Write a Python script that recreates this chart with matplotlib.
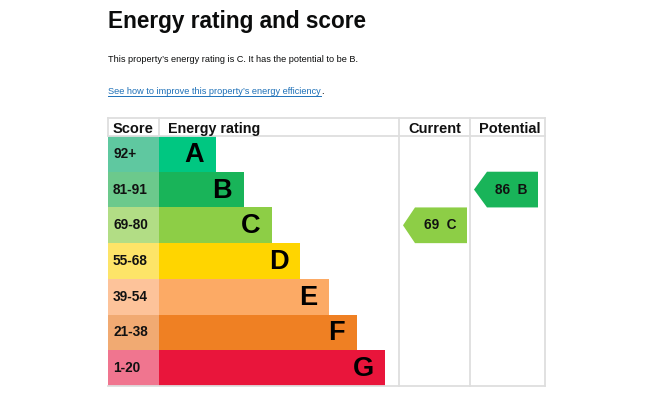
import matplotlib
matplotlib.use('Agg')
import matplotlib.pyplot as plt
from matplotlib.patches import Polygon

plt.rcParams['font.family'] = ['Liberation Sans', 'DejaVu Sans']

# ---- data ----
bands = ['A', 'B', 'C', 'D', 'E', 'F', 'G']
score_ranges = ['92+', '81-91', '69-80', '55-68', '39-54', '21-38', '1-20']
band_min = [92, 81, 69, 55, 39, 21, 1]
bar_units = [2, 3, 4, 5, 6, 7, 8]
band_colors = ['#00c781', '#19b459', '#8dce46', '#ffd500', '#fcaa65', '#ef8023', '#e9153b']
score_colors = ['#5fc8a0', '#6cc98c', '#b2dd85', '#fde468', '#fdc39a', '#f1aa72', '#f0758f']
headers = ['Score', 'Energy rating', 'Current', 'Potential']
current_score = 69
potential_score = 86
title = 'Energy rating and score'
subtitle = "This property\u2019s energy rating is C. It has the potential to be B."
link_text = "See how to improve this property\u2019s energy efficiency"

# ---- layout (pixels) ----
W, H = 650, 400
tbl_left, tbl_right = 108, 544.5
tbl_top, hdr_bottom, tbl_bottom = 118, 136, 386
score_right = 159
rating_right = 399
current_right = 470
unit = 28.25
row_h = (tbl_bottom - hdr_bottom) / len(bands)
grid_col = '#dedede'

fig = plt.figure(figsize=(W / 100, H / 100), dpi=100)
ax = fig.add_axes([0, 0, 1, 1])
ax.set_xlim(0, W)
ax.set_ylim(H, 0)
ax.axis('off')

centers = [hdr_bottom + row_h * (i + 0.5) for i in range(len(bands))]

# score cells
ax.barh(centers, [score_right - tbl_left] * len(bands), left=tbl_left,
        height=row_h, color=score_colors, linewidth=0)
# rating bars
ax.barh(centers, [u * unit for u in bar_units], left=score_right,
        height=row_h, color=band_colors, linewidth=0)

for i, (b, sr, u) in enumerate(zip(bands, score_ranges, bar_units)):
    ax.text(tbl_left + 5, centers[i], sr, ha='left', va='center',
            fontsize=9.8, fontweight='bold', color='#111111')
    ax.text(score_right + u * unit - 11.5, centers[i] + 1, b, ha='right', va='center',
            fontsize=19.5, fontweight='bold', color='black')

# grid lines
lw = 1.3
ax.plot([tbl_left, tbl_right], [tbl_top, tbl_top], color=grid_col, lw=lw)
ax.plot([tbl_left, tbl_right], [hdr_bottom, hdr_bottom], color=grid_col, lw=lw)
ax.plot([tbl_left, tbl_right], [tbl_bottom, tbl_bottom], color=grid_col, lw=lw)
ax.plot([tbl_left, tbl_left], [tbl_top, hdr_bottom], color=grid_col, lw=lw)
ax.plot([score_right, score_right], [tbl_top, hdr_bottom], color=grid_col, lw=lw)
for x in (rating_right, current_right, tbl_right):
    ax.plot([x, x], [tbl_top, tbl_bottom], color=grid_col, lw=lw)

# headers
hy = 133
ax.text(tbl_left + 5, hy, headers[0], ha='left', va='baseline', fontsize=10.5,
        fontweight='bold', color='#111111')
ax.text(score_right + 9, hy, headers[1], ha='left', va='baseline', fontsize=10.3,
        fontweight='bold', color='#111111')
ax.text((rating_right + current_right) / 2, hy, headers[2], ha='center', va='baseline',
        fontsize=10.5, fontweight='bold', color='#111111')
ax.text((current_right + tbl_right) / 2 + 2, hy, headers[3], ha='center', va='baseline',
        fontsize=10.5, fontweight='bold', color='#111111')


def band_index(score):
    for i, m in enumerate(band_min):
        if score >= m:
            return i
    return len(band_min) - 1


def arrow(score, x_tip, x_body, x_right):
    i = band_index(score)
    top = hdr_bottom + row_h * i
    bot = top + row_h
    mid = (top + bot) / 2
    poly = Polygon([(x_tip, mid), (x_body, top), (x_right, top), (x_right, bot), (x_body, bot)],
                   closed=True, facecolor=band_colors[i], edgecolor='none')
    ax.add_patch(poly)
    ax.text((x_body + x_right) / 2 - 1, mid, f"{score}  {bands[i]}", ha='center', va='center',
            fontsize=9.8, fontweight='bold', color='#111111')


arrow(current_score, 403, 415, 467)
arrow(potential_score, 474, 487, 538)

# title and texts
ax.text(tbl_left, 28, title, ha='left', va='baseline', fontsize=16.3,
        fontweight='bold', color='#0b0c0c')
ax.text(tbl_left, 62, subtitle, ha='left', va='baseline', fontsize=6.6, color='#0b0c0c')
lt = ax.text(tbl_left, 94, link_text, ha='left', va='baseline', fontsize=6.6, color='#1d70b8')
fig.canvas.draw()
bb = lt.get_window_extent(renderer=fig.canvas.get_renderer())
x0, x1 = bb.x0, bb.x1
ax.plot([x0, x1], [96, 96], color='#1d70b8', lw=0.7)
ax.text(x1, 94, '.', ha='left', va='baseline', fontsize=6.6, color='#0b0c0c')

fig.savefig('out.png', dpi=100, facecolor='white')
